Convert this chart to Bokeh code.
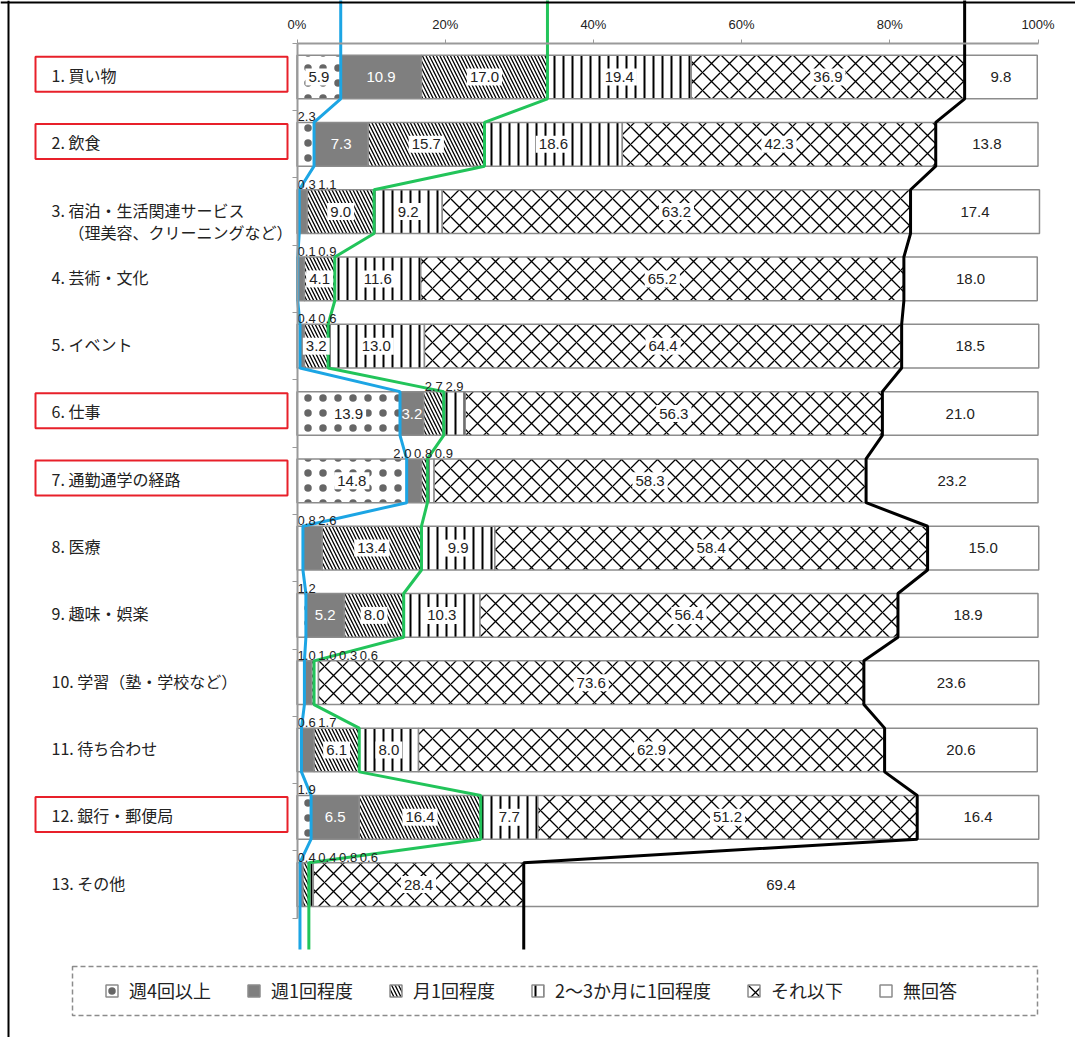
import numpy as np
from bokeh.plotting import figure
from bokeh.models import (Range1d, LinearAxis, FixedTicker, CustomJSTickFormatter,
                          Legend, LegendItem, Span, ColumnDataSource)
from bokeh.core.properties import value
from bokeh.embed import file_html
from bokeh.resources import INLINE

# ---------------- data ----------------
categories = [
    "1. 買い物", "2. 飲食", "3. 宿泊・生活関連サービス", "4. 芸術・文化", "5. イベント",
    "6. 仕事", "7. 通勤通学の経路", "8. 医療", "9. 趣味・娯楽", "10. 学習（塾・学校など）",
    "11. 待ち合わせ", "12. 銀行・郵便局", "13. その他",
]
sub_labels = ["", "", "（理美容、クリーニングなど）", "", "", "", "", "", "", "", "", "", ""]
highlighted = [1, 1, 0, 0, 0, 1, 1, 0, 0, 0, 0, 1, 0]

series_names = ["週4回以上", "週1回程度", "月1回程度", "2～3か月に1回程度", "それ以下", "無回答"]
weekly4 = [5.9, 2.3, 0.3, 0.1, 0.4, 13.9, 14.8, 0.8, 1.2, 1.0, 0.6, 1.9, 0.4]
weekly1 = [10.9, 7.3, 1.1, 0.9, 0.6, 3.2, 2.0, 2.6, 5.2, 1.0, 1.7, 6.5, 0.4]
monthly1 = [17.0, 15.7, 9.0, 4.1, 3.2, 2.7, 0.8, 13.4, 8.0, 0.3, 6.1, 16.4, 0.8]
months23 = [19.4, 18.6, 9.2, 11.6, 13.0, 2.9, 0.9, 9.9, 10.3, 0.6, 8.0, 7.7, 0.6]
less_often = [36.9, 42.3, 63.2, 65.2, 64.4, 56.3, 58.3, 58.4, 56.4, 73.6, 62.9, 51.2, 28.4]
no_answer = [9.8, 13.8, 17.4, 18.0, 18.5, 21.0, 23.2, 15.0, 18.9, 23.6, 20.6, 16.4, 69.4]

x_ticks = [0, 20, 40, 60, 80, 100]
x_tick_labels = ["0%", "20%", "40%", "60%", "80%", "100%"]

# ---------------- layout constants ----------------
W, H = 1075, 1037
PX_X = 7.41          # pixels per percent
PX_Y = 67.3          # pixels per row
X0_PX = 296.5        # pixel of 0%
Y0_PX = 76.5         # pixel of first row centre
BAR_H = 0.65
x_start = -X0_PX / PX_X
x_end = x_start + W / PX_X
y_top = -Y0_PX / PX_Y
y_bottom = y_top + H / PX_Y


def px_x(px):
    return x_start + px / PX_X


def px_y(py):
    return y_top + py / PX_Y


p = figure(width=W, height=H, x_range=Range1d(x_start, x_end), y_range=Range1d(y_bottom, y_top),
           output_backend="svg", toolbar_location=None, x_axis_location=None, y_axis_location=None,
           min_border=0, outline_line_color=None)
p.grid.visible = False

# ---------------- bars ----------------
data = np.array([weekly4, weekly1, monthly1, months23, less_often, no_answer])
cum = np.cumsum(data, axis=0)
lefts = cum - data
rows = np.arange(len(categories))

styles = [
    dict(fill_color="white", hatch_pattern="dot", hatch_scale=15, hatch_weight=0.2, hatch_color="#333333",
         hatch_alpha=0.75),
    dict(fill_color="#7f7f7f"),
    dict(fill_color="white", hatch_pattern="left_diagonal_line", hatch_scale=7, hatch_weight=1.3, hatch_color="black"),
    dict(fill_color="white", hatch_pattern="vertical_line", hatch_scale=9, hatch_weight=2, hatch_color="black"),
    dict(fill_color="white", hatch_pattern="diagonal_cross", hatch_scale=18, hatch_weight=1.3, hatch_color="black"),
    dict(fill_color="white"),
]
renderers = []
for k in range(len(series_names)):
    src = ColumnDataSource(dict(y=rows, left=lefts[k], right=cum[k]))
    r = p.hbar(y="y", left="left", right="right", height=BAR_H, source=src,
               line_color="#8c8c8c", line_width=1.5, **styles[k])
    renderers.append(r)

# ---------------- connecting lines ----------------
LINE_TAIL = 0.64


def path(vals):
    xs, ys = [vals[0]], [y_top - 0.3]
    for i, v in enumerate(vals):
        xs += [v, v]
        ys += [i - BAR_H / 2, i + BAR_H / 2]
    xs.append(vals[-1])
    ys.append(len(vals) - 1 + BAR_H / 2 + LINE_TAIL)
    return xs, ys


for k, col in [(0, "#1ca5e4"), (2, "#22c45a"), (4, "black")]:
    xs, ys = path(cum[k])
    p.line(xs, ys, line_color=col, line_width=3)

# ---------------- value labels ----------------
THRESH = 3.0
lab = {"bg": ([], [], []), "gray": ([], [], []), "plain": ([], [], [])}
small_x, small_y, small_t = [], [], []
SMALL_W = 2.8
SMALL_LO = 1.3
for i in rows:
    centers, texts = [], []
    for k in range(len(series_names)):
        v = data[k, i]
        c = lefts[k, i] + v / 2
        t = f"{v:.1f}"
        if v >= THRESH:
            key = "gray" if k == 1 else ("plain" if k == 5 else "bg")
            lab[key][0].append(c)
            lab[key][1].append(i)
            lab[key][2].append(t)
        else:
            centers.append(c)
            texts.append(t)
    pos = list(centers)
    for _ in range(200):
        for j in range(1, len(pos)):
            d = pos[j] - pos[j - 1]
            if d < SMALL_W:
                o = (SMALL_W - d) / 2
                pos[j - 1] -= o
                pos[j] += o
        if pos and pos[0] < SMALL_LO:
            pos[0] = SMALL_LO
    small_x += pos
    small_y += [i - BAR_H / 2] * len(pos)
    small_t += texts

NUM_FONT = value("Liberation Sans")
# white patches behind labels on patterned segments
bg_w = [len(t) * 8.3 + 2 for t in lab["bg"][2]]
p.rect(x=lab["bg"][0], y=lab["bg"][1], width=bg_w, height=17, width_units="screen", height_units="screen",
       fill_color="white", line_color=None)
p.text(x=lab["bg"][0], y=lab["bg"][1], text=lab["bg"][2], text_align="center", text_baseline="middle",
       text_font=NUM_FONT, text_font_size="15px", text_color="#222222")
p.text(x=lab["gray"][0], y=lab["gray"][1], text=lab["gray"][2], text_align="center", text_baseline="middle",
       text_font=NUM_FONT, text_font_size="15px", text_color="white")
p.text(x=lab["plain"][0], y=lab["plain"][1], text=lab["plain"][2], text_align="center", text_baseline="middle",
       text_font=NUM_FONT, text_font_size="15px", text_color="#222222")
p.text(x=small_x, y=small_y, text=small_t, text_align="center", text_baseline="bottom", y_offset=-1,
       text_font=NUM_FONT, text_font_size="13px", text_color="#222222")

# ---------------- category labels ----------------
JP_FONT = value("Noto Sans CJK JP")
LABEL_X = px_x(51)
p.text(x=[LABEL_X] * len(categories), y=rows - 0.03, text=categories, text_align="left",
       text_baseline="middle", text_font=JP_FONT, text_font_size="16px", text_color="#222222")
sub_rows = [i for i in rows if sub_labels[i]]
p.text(x=[LABEL_X] * len(sub_rows), y=[i for i in sub_rows], text=[sub_labels[i] for i in sub_rows],
       x_offset=17, y_offset=20, text_align="left", text_baseline="middle",
       text_font=JP_FONT, text_font_size="16px", text_color="#222222")

hl_rows = [i for i in rows if highlighted[i]]
box_l, box_r = px_x(35), px_x(287)
p.rect(x=[(box_l + box_r) / 2] * len(hl_rows), y=[i - 0.04 for i in hl_rows], width=box_r - box_l,
       height=0.52, fill_color=None, line_color="#e8202a", line_width=2)

# ---------------- axes ----------------
top_axis = LinearAxis(fixed_location=-0.5, ticker=FixedTicker(ticks=x_ticks),
                      major_label_overrides=dict(zip(x_ticks, x_tick_labels)), bounds=(0, 100),
                      axis_line_color="#9a9a9a", axis_line_width=2, major_tick_line_color="#9a9a9a",
                      major_tick_out=4, major_tick_in=0, minor_tick_line_color=None,
                      major_label_text_font="Liberation Sans", major_label_text_font_size="13px",
                      major_label_text_color="#222222", major_label_standoff=7)
p.add_layout(top_axis, "above")

left_axis = LinearAxis(fixed_location=0, ticker=FixedTicker(ticks=[i - 0.5 for i in range(len(categories) + 1)]),
                       formatter=CustomJSTickFormatter(code="return ''"), bounds=(-0.5, len(categories) - 0.5),
                       axis_line_color="#9a9a9a", axis_line_width=2, major_tick_line_color="#9a9a9a",
                       major_tick_out=5, major_tick_in=0, minor_tick_line_color=None)
p.add_layout(left_axis, "left")

# frame lines
p.add_layout(Span(location=px_x(8), dimension="height", line_color="black", line_width=2))
p.add_layout(Span(location=px_y(2), dimension="width", line_color="black", line_width=2))

# ---------------- legend ----------------
p.quad(left=px_x(72), right=px_x(1037), top=px_y(966), bottom=px_y(1015), fill_color=None,
       line_color="#8c8c8c", line_dash="5 3", line_width=1.5)
legend = Legend(items=[LegendItem(label=n, renderers=[r]) for n, r in zip(series_names, renderers)],
                orientation="horizontal", location=(104, 34), glyph_width=15, glyph_height=15,
                label_standoff=10, spacing=35, padding=0, margin=0, border_line_color=None,
                background_fill_alpha=0, label_text_font="Noto Sans CJK JP", label_text_font_size="18px",
                label_text_color="#222222")
p.add_layout(legend)

open("out.html", "w").write(file_html(p, INLINE))
